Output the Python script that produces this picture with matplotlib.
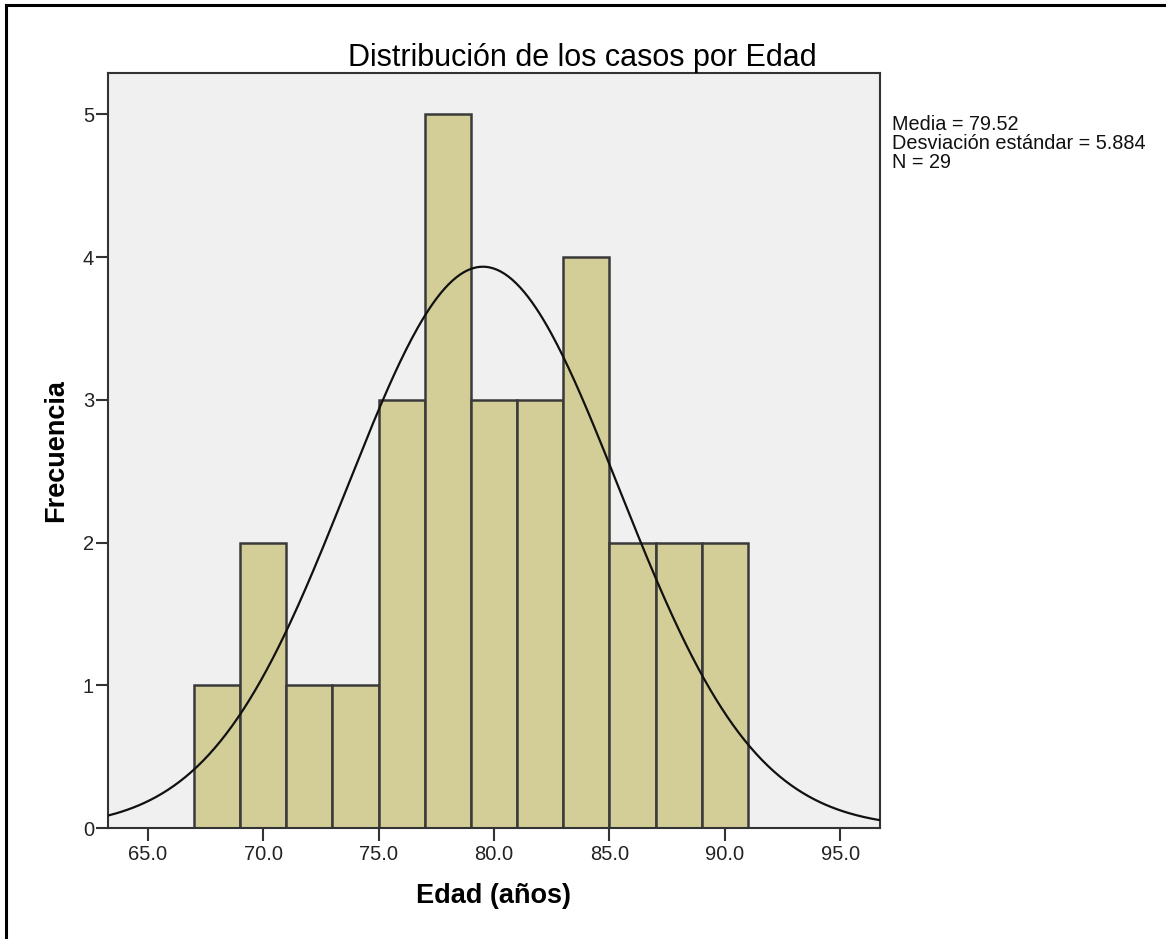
import numpy as np
import matplotlib
matplotlib.use("Agg")
import matplotlib.pyplot as plt
from matplotlib.lines import Line2D

plt.rcParams["font.family"] = ["Liberation Sans", "DejaVu Sans"]

# datos del histograma (intervalos de 2 años)
bin_edges = [67, 69, 71, 73, 75, 77, 79, 81, 83, 85, 87, 89, 91]
frecuencias = [1, 2, 1, 1, 3, 5, 3, 3, 4, 2, 2, 2]
media = 79.52
desv = 5.884
n = 29
x_ticks = [65.0, 70.0, 75.0, 80.0, 85.0, 90.0, 95.0]
y_ticks = [0, 1, 2, 3, 4, 5]

fig = plt.figure(figsize=(11.66, 9.39), dpi=100)
ax = fig.add_axes([0.0926, 0.1182, 0.6621, 0.8041])
ax.set_facecolor("#f0f0f0")

anchos = np.diff(bin_edges)
ax.bar(bin_edges[:-1], frecuencias, width=anchos, align="edge",
       color="#d3ce97", edgecolor="#3a3a3a", linewidth=1.8, zorder=2)

# curva normal escalada a las frecuencias
xs = np.linspace(63.28, 96.72, 400)
ancho = bin_edges[1] - bin_edges[0]
ys = n * ancho / (desv * np.sqrt(2 * np.pi)) * np.exp(-0.5 * ((xs - media) / desv) ** 2)
ax.plot(xs, ys, color="#111111", linewidth=1.6, zorder=3)

ax.set_xlim(63.28, 96.72)
ax.set_ylim(0, 5.29)
ax.set_xticks(x_ticks)
ax.set_xticklabels([f"{t:.1f}" for t in x_ticks])
ax.set_yticks(y_ticks)
ax.tick_params(axis="both", direction="out", length=9, width=1.5,
               color="#333333", labelsize=14.5, labelcolor="#222222")
ax.tick_params(axis="x", pad=3)
ax.tick_params(axis="y", pad=1)
for s in ax.spines.values():
    s.set_color("#333333")
    s.set_linewidth(1.5)

ax.set_title("Distribución de los casos por Edad", fontsize=22, pad=3, x=0.615)
ax.set_xlabel("Edad (años)", fontsize=19.5, fontweight="bold", labelpad=14)
ax.set_ylabel("Frecuencia", fontsize=19.5, fontweight="bold", labelpad=10)

fig.text(0.7650, 0.877,
         f"Media = {media:.2f}\nDesviación estándar = {desv:.3f}\nN = {n}",
         fontsize=14.3, va="top", ha="left", linespacing=0.97, color="#111111")

# marco exterior (solo arriba e izquierda visibles)
fig.add_artist(Line2D([0.0055, 1.0], [0.9945, 0.9945], transform=fig.transFigure,
                      color="black", linewidth=2.2))
fig.add_artist(Line2D([0.0055, 0.0055], [0.0, 0.9945], transform=fig.transFigure,
                      color="black", linewidth=2.2))

fig.savefig("out.png", dpi=100, facecolor="white")
